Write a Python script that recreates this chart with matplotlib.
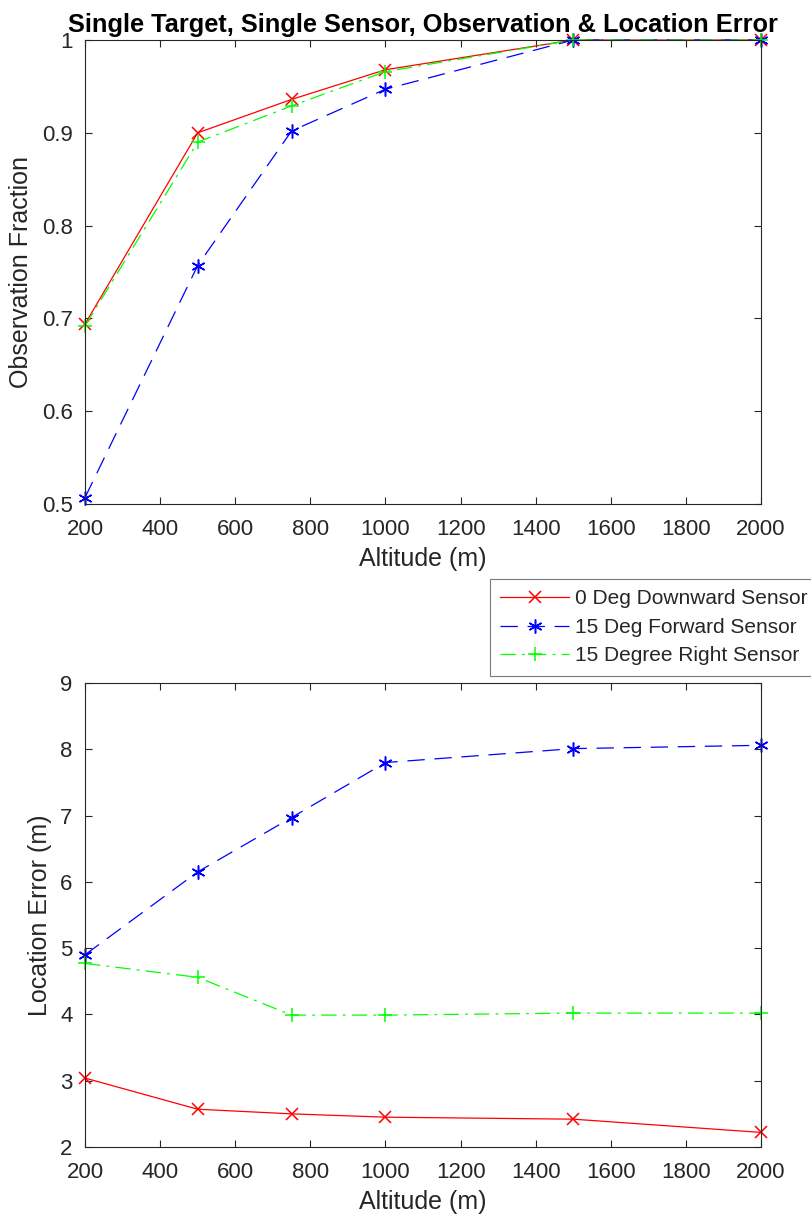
import numpy as np
import matplotlib
matplotlib.use('Agg')
import matplotlib.pyplot as plt

plt.rcParams['font.family'] = ['Liberation Sans', 'DejaVu Sans']
plt.rcParams['lines.scale_dashes'] = False

# altitudes (m)
altitude = [200, 500, 750, 1000, 1500, 2000]

# observation fraction
obs_down = [0.694, 0.900, 0.936, 0.968, 1.000, 1.000]
obs_fwd = [0.507, 0.757, 0.902, 0.947, 1.000, 1.000]
obs_right = [0.692, 0.890, 0.929, 0.966, 1.000, 1.000]

# location error (m)
err_down = [3.04, 2.57, 2.50, 2.45, 2.42, 2.22]
err_fwd = [4.90, 6.15, 6.97, 7.80, 8.01, 8.06]
err_right = [4.77, 4.56, 3.99, 3.99, 4.02, 4.02]

labels = ['0 Deg Downward Sensor', '15 Deg Forward Sensor', '15 Degree Right Sensor']
xticks = [200, 400, 600, 800, 1000, 1200, 1400, 1600, 1800, 2000]

fig = plt.figure(figsize=(8.12, 12.24), dpi=100)
ax1 = fig.add_axes([0.1047, 0.5882, 0.8325, 0.3791])
ax2 = fig.add_axes([0.1047, 0.0629, 0.8325, 0.3791])

dark = '#262626'
# MATLAB-like 'x', '*' (asterisk) and '+' markers
styles = [
    dict(color='red', linestyle='-', marker='x', markersize=8),
    dict(color='blue', linestyle=(0, (12.5, 7)), marker=(6, 2, 0), markersize=10),
    dict(color='#00ff00', linestyle=(0, (11, 4.5, 2, 4.5)), marker='+', markersize=10),
]

for ax, series in [(ax1, [obs_down, obs_fwd, obs_right]), (ax2, [err_down, err_fwd, err_right])]:
    for vals, st, lab in zip(series, styles, labels):
        ax.plot(altitude, vals, linewidth=0.9, markeredgewidth=1.1,
                label=lab, clip_on=False, **st)
    ax.set_xlim(200, 2000)
    ax.set_xticks(xticks)
    ax.tick_params(direction='in', top=True, right=True, length=5, width=0.8,
                   colors=dark, labelsize=16)
    ax.tick_params(axis='x', pad=11)
    ax.tick_params(axis='y', pad=9)
    for sp in ax.spines.values():
        sp.set_color(dark)
        sp.set_linewidth(0.8)
    ax.set_xlabel('Altitude (m)', fontsize=18, color=dark, labelpad=5)

ax1.set_ylim(0.5, 1)
ax1.set_yticks([0.5, 0.6, 0.7, 0.8, 0.9, 1.0])
ax1.set_yticklabels(['0.5', '0.6', '0.7', '0.8', '0.9', '1'])
ax1.set_ylabel('Observation Fraction', fontsize=18, color=dark, labelpad=6)
ax1.set_title('Single Target, Single Sensor, Observation & Location Error',
              fontsize=18.3, fontweight='bold', pad=6)

ax2.set_ylim(2, 9)
ax2.set_yticks(range(2, 10))
ax2.set_ylabel('Location Error (m)', fontsize=18, color=dark, labelpad=6)

leg = ax2.legend(loc='upper left', bbox_to_anchor=(490 / 812, 1 - 579 / 1224),
                 bbox_transform=fig.transFigure, fontsize=15,
                 frameon=True, fancybox=False, borderaxespad=0, handlelength=3.3,
                 labelspacing=0.45, borderpad=0.5, handletextpad=0.3)
leg.get_frame().set_edgecolor('#5a5a5a')
leg.get_frame().set_linewidth(0.8)
for t in leg.get_texts():
    t.set_color(dark)

fig.savefig('out.png', dpi=100)
